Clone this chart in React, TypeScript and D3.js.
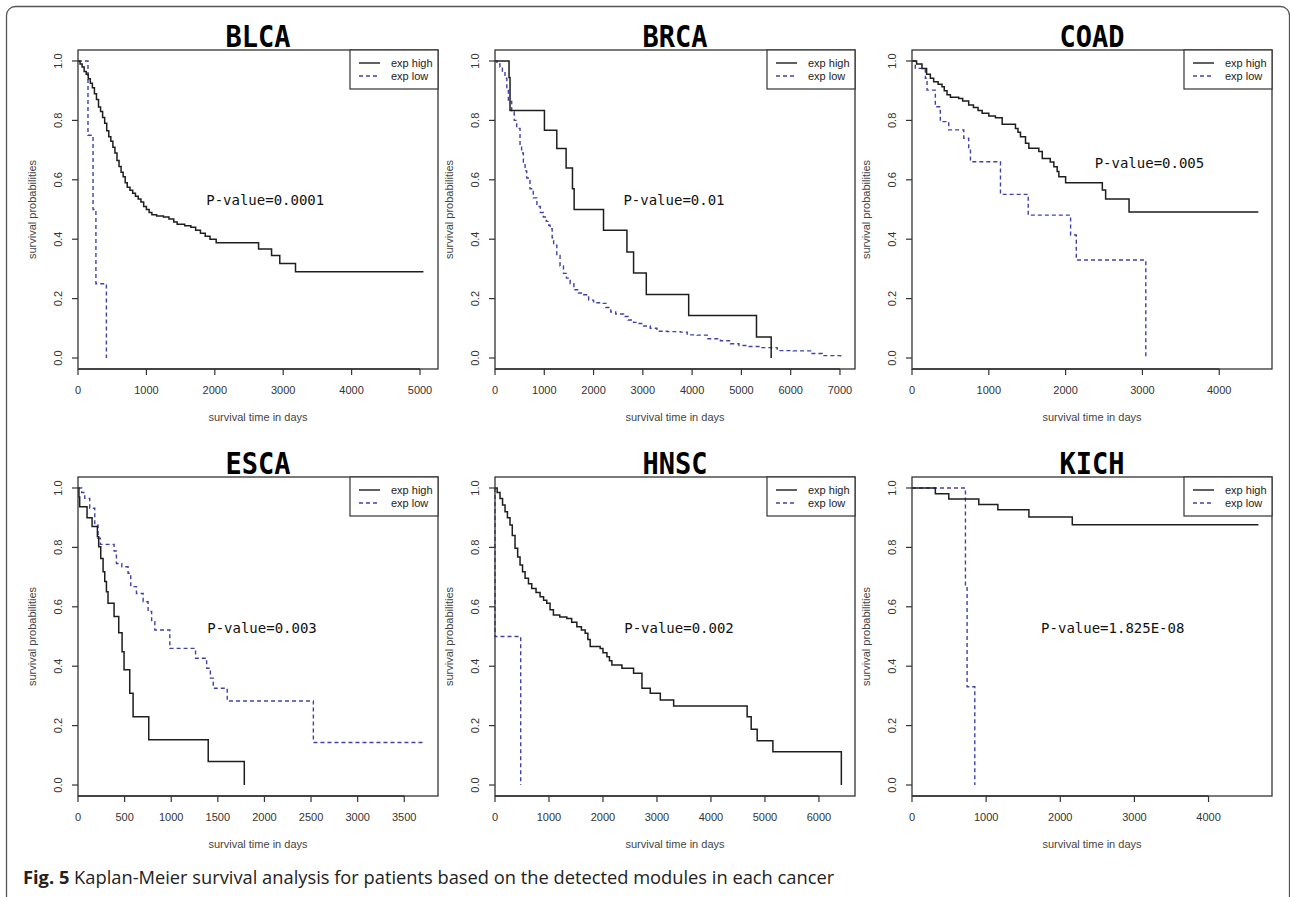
import * as d3 from "d3";

// Kaplan-Meier steps: [day, survival after the step]
const blcaHigh = [[0,1],[30,0.99],[60,0.98],[90,0.965],[120,0.955],[150,0.94],[180,0.925],[210,0.91],[240,0.89],[270,0.87],[300,0.845],[330,0.83],[360,0.81],[390,0.79],[420,0.765],[450,0.745],[480,0.73],[510,0.71],[540,0.69],[570,0.665],[600,0.645],[630,0.625],[660,0.61],[690,0.59],[720,0.575],[760,0.565],[800,0.555],[840,0.545],[880,0.535],[920,0.525],[960,0.51],[1000,0.5],[1040,0.49],[1080,0.482],[1150,0.478],[1250,0.475],[1330,0.468],[1400,0.458],[1450,0.45],[1560,0.445],[1650,0.44],[1720,0.43],[1790,0.42],[1860,0.41],[1930,0.4],[2020,0.388],[2640,0.367],[2830,0.345],[2950,0.318],[3180,0.29],[5050,0.29]];
const blcaLow = [[0,1],[146,0.75],[220,0.5],[262,0.25],[415,0]];

const brcaHigh = [[0,1],[285,0.944],[305,0.833],[1003,0.767],[1254,0.705],[1443,0.64],[1572,0.57],[1606,0.5],[2202,0.43],[2677,0.357],[2812,0.286],[3070,0.214],[3930,0.143],[5306,0.071],[5604,0]];
const brcaLow = [[0,1],[40,0.99],[100,0.98],[150,0.965],[203,0.942],[240,0.905],[271,0.864],[339,0.829],[390,0.8],[441,0.773],[508,0.717],[540,0.69],[576,0.66],[610,0.63],[644,0.606],[710,0.57],[776,0.539],[850,0.51],[920,0.49],[980,0.475],[1040,0.46],[1090,0.447],[1118,0.435],[1160,0.405],[1190,0.38],[1254,0.345],[1320,0.31],[1389,0.285],[1450,0.269],[1525,0.25],[1600,0.23],[1694,0.219],[1800,0.213],[1900,0.195],[2000,0.186],[2150,0.184],[2250,0.17],[2350,0.155],[2450,0.148],[2609,0.14],[2700,0.128],[2812,0.12],[2900,0.116],[3015,0.108],[3150,0.1],[3286,0.09],[3500,0.089],[3761,0.087],[3900,0.078],[4100,0.077],[4303,0.065],[4574,0.058],[4777,0.048],[4950,0.042],[5116,0.039],[5400,0.035],[5726,0.025],[6050,0.024],[6403,0.015],[6641,0.008],[7013,0.003]];

const coadHigh = [[0,1],[60,0.99],[130,0.975],[190,0.955],[239,0.942],[282,0.93],[340,0.922],[391,0.913],[420,0.9],[456,0.886],[500,0.878],[608,0.874],[660,0.865],[738,0.852],[800,0.843],[860,0.833],[913,0.824],[1000,0.815],[1086,0.809],[1174,0.787],[1347,0.773],[1380,0.76],[1412,0.745],[1478,0.723],[1521,0.706],[1651,0.695],[1696,0.672],[1800,0.66],[1847,0.644],[1890,0.628],[1912,0.61],[2000,0.59],[2478,0.566],[2521,0.535],[2826,0.492],[4509,0.492]];
const coadLow = [[0,1],[43,0.975],[174,0.942],[196,0.902],[304,0.846],[369,0.796],[478,0.768],[674,0.74],[738,0.7],[761,0.661],[1152,0.551],[1513,0.481],[2065,0.414],[2139,0.33],[3044,0]];

const escaHigh = [[0,1],[10,0.97],[18,0.937],[97,0.9],[151,0.87],[208,0.836],[222,0.802],[244,0.763],[269,0.718],[287,0.685],[305,0.651],[322,0.612],[387,0.567],[437,0.513],[473,0.449],[494,0.388],[555,0.309],[591,0.23],[759,0.152],[1397,0.079],[1784,0]];
const escaLow = [[0,1],[40,0.985],[72,0.965],[126,0.932],[180,0.875],[215,0.831],[240,0.81],[387,0.788],[412,0.746],[470,0.735],[537,0.713],[566,0.668],[627,0.645],[699,0.617],[752,0.584],[790,0.55],[824,0.522],[985,0.46],[1261,0.427],[1380,0.393],[1420,0.36],[1451,0.326],[1601,0.283],[2525,0.143],[3718,0.143]];

const hnscHigh = [[0,1],[40,0.985],[93,0.965],[140,0.943],[186,0.92],[230,0.9],[278,0.875],[320,0.84],[371,0.797],[420,0.768],[464,0.741],[510,0.718],[557,0.696],[620,0.678],[681,0.662],[760,0.648],[835,0.634],[900,0.622],[959,0.612],[1020,0.59],[1082,0.572],[1200,0.566],[1330,0.561],[1420,0.548],[1516,0.533],[1600,0.522],[1670,0.511],[1720,0.49],[1763,0.466],[1948,0.46],[2000,0.445],[2073,0.432],[2120,0.418],[2165,0.404],[2351,0.393],[2567,0.376],[2722,0.326],[2876,0.309],[3062,0.286],[3309,0.266],[4670,0.23],[4745,0.188],[4856,0.149],[5147,0.112],[6415,0]];
const hnscLow = [[0,1],[0,0.5],[476,0]];

const kichHigh = [[0,1],[315,0.981],[496,0.963],[901,0.944],[1158,0.927],[1577,0.902],[2162,0.876],[4672,0.876]];
const kichLow = [[0,1],[721,0.669],[743,0.331],[847,0]];

const cancers = ["BLCA", "BRCA", "COAD", "ESCA", "HNSC", "KICH"];
const pValues = ["P-value=0.0001", "P-value=0.01", "P-value=0.005", "P-value=0.003", "P-value=0.002", "P-value=1.825E-08"];
const highSeries = [blcaHigh, brcaHigh, coadHigh, escaHigh, hnscHigh, kichHigh];
const lowSeries = [blcaLow, brcaLow, coadLow, escaLow, hnscLow, kichLow];
const xTickEnds = [5000, 7000, 4000, 3500, 6000, 4000];
const xTickSteps = [1000, 1000, 1000, 500, 1000, 1000];
const yTickValues = [0, 0.2, 0.4, 0.6, 0.8, 1.0];
const legendLabels = ["exp high", "exp low"];

// layout
const colLeft = [78, 495, 912];
const rowTop = [50, 477];
const plotW = 360;
const plotH = 319;
const xLimits = [5263, 7305, 4687, 3862, 6668, 4856];
// centre of the p-value text, in data units
const pLabelAt = [[2737, 0.531], [3632, 0.531], [3091, 0.658], [1974, 0.528], [3408, 0.528], [2708, 0.528]];

const axisFont = "'Liberation Sans', Arial, sans-serif";
const highColor = "#1e1e1e";
const lowColor = "#4141a8";

function KMPanel({ i }) {
  const left = colLeft[i % 3];
  const top = rowTop[Math.floor(i / 3)];
  const x = d3.scaleLinear().domain([0, xLimits[i]]).range([0, plotW]);
  const y = d3.scaleLinear().domain([-0.037, 1.037]).range([plotH, 0]);
  const line = d3.line().x((d) => x(d[0])).y((d) => y(d[1])).curve(d3.curveStepAfter);
  const xTicks = d3.range(0, xTickEnds[i] + 1, xTickSteps[i]);
  const legW = 88;
  const legH = 39;

  return (
    <g transform={`translate(${left},${top})`}>
      <text
        x={plotW / 2}
        y={-3.5}
        textAnchor="middle"
        fontFamily="'DejaVu Sans Mono', monospace"
        fontWeight="bold"
        fontSize={30}
        textLength={65}
        lengthAdjust="spacingAndGlyphs"
        fill="#000"
      >
        {cancers[i]}
      </text>

      <path d={line(lowSeries[i])} fill="none" stroke={lowColor} strokeWidth={1.4} strokeDasharray="4,3" />
      <path d={line(highSeries[i])} fill="none" stroke={highColor} strokeWidth={1.5} />

      <rect x={0} y={0} width={plotW} height={plotH} fill="none" stroke="#333" strokeWidth={1.3} />

      {/* x axis */}
      <line x1={x(0)} x2={x(xTickEnds[i])} y1={plotH} y2={plotH} stroke="#333" strokeWidth={1.3} />
      {xTicks.map((t) => (
        <g key={t}>
          <line x1={x(t)} x2={x(t)} y1={plotH} y2={plotH + 6} stroke="#333" strokeWidth={1.2} />
          <text x={x(t)} y={plotH + 21} textAnchor="middle" dominantBaseline="central" fontFamily={axisFont} fontSize={11} fill="#333">
            {t}
          </text>
        </g>
      ))}
      <text x={plotW / 2} y={plotH + 48} textAnchor="middle" dominantBaseline="central" fontFamily={axisFont} fontSize={11} fill="#444">
        survival time in days
      </text>

      {/* y axis */}
      {yTickValues.map((t) => (
        <g key={t}>
          <line x1={-6} x2={0} y1={y(t)} y2={y(t)} stroke="#333" strokeWidth={1.2} />
          <text
            transform={`translate(-20,${y(t)}) rotate(-90)`}
            textAnchor="middle"
            dominantBaseline="central"
            fontFamily={axisFont}
            fontSize={11}
            fill="#333"
          >
            {t.toFixed(1)}
          </text>
        </g>
      ))}
      <text
        transform={`translate(-46.5,${plotH / 2}) rotate(-90)`}
        textAnchor="middle"
        dominantBaseline="central"
        fontFamily={axisFont}
        fontSize={11}
        fill="#444"
      >
        survival probabilities
      </text>

      {/* legend */}
      <g transform={`translate(${plotW - legW},0)`}>
        <rect x={0} y={0} width={legW} height={legH} fill="#fff" stroke="#333" strokeWidth={1.2} />
        {legendLabels.map((lab, k) => (
          <g key={lab}>
            <line
              x1={9}
              x2={30}
              y1={13 + k * 13}
              y2={13 + k * 13}
              stroke={k === 0 ? highColor : lowColor}
              strokeWidth={1.4}
              strokeDasharray={k === 0 ? null : "4,3"}
            />
            <text x={41} y={13 + k * 13} dominantBaseline="central" fontFamily={axisFont} fontSize={11} fill="#222">
              {lab}
            </text>
          </g>
        ))}
      </g>

      <text
        x={x(pLabelAt[i][0])}
        y={y(pLabelAt[i][1])}
        textAnchor="middle"
        dominantBaseline="central"
        fontFamily="'DejaVu Sans Mono', 'Liberation Mono', monospace"
        fontSize={14}
        fill="#111"
      >
        {pValues[i]}
      </text>
    </g>
  );
}

export default function App() {
  return (
    <svg
      width={1290}
      height={897}
      viewBox="0 0 1290 897"
      style={{ position: "absolute", left: 0, top: 0, background: "#fff" }}
    >
      <rect x={0} y={0} width={1290} height={897} fill="#fff" />
      <rect x={6.5} y={6.5} width={1283} height={1000} rx={9} fill="none" stroke="#555" strokeWidth={1.3} />
      {cancers.map((c, i) => (
        <KMPanel key={c} i={i} />
      ))}
      <text x={23} y={884} fontFamily="'Open Sans', sans-serif" fontSize={18.3} fill="#222">
        <tspan fontWeight="bold">Fig. 5</tspan>
        <tspan> Kaplan-Meier survival analysis for patients based on the detected modules in each cancer</tspan>
      </text>
    </svg>
  );
}
